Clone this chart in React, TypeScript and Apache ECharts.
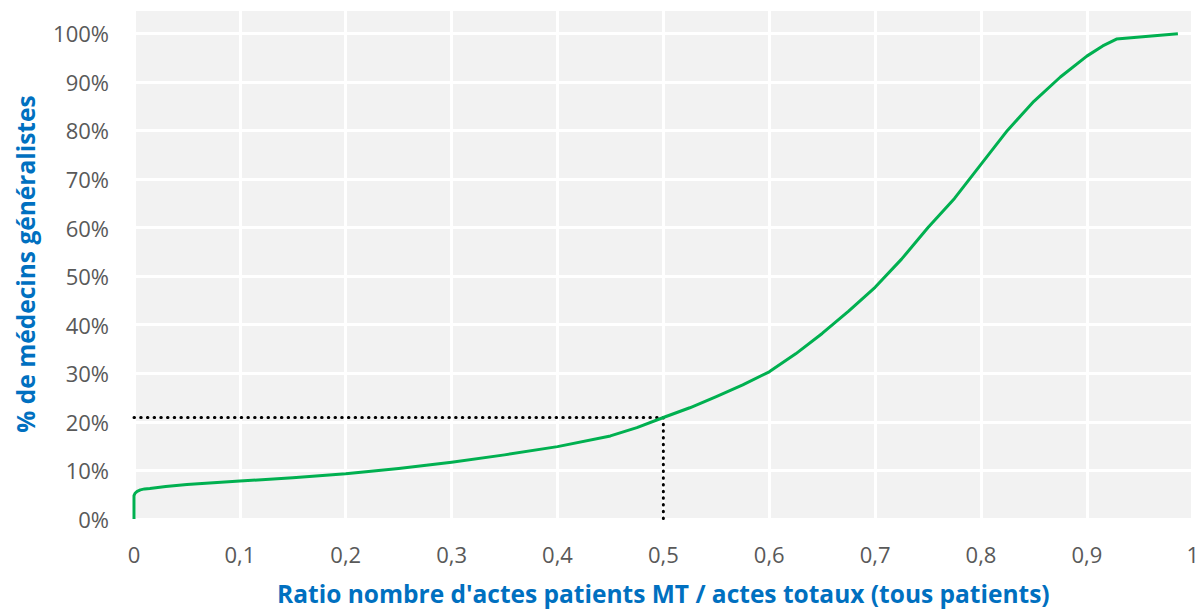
import React, { useEffect, useRef } from "react";
import * as echarts from "echarts";

const ratioX: number[] = [0, 0, 0.001, 0.003, 0.006, 0.01, 0.015, 0.03, 0.05, 0.1, 0.15, 0.2, 0.25, 0.3, 0.35, 0.4, 0.45, 0.475, 0.5, 0.525, 0.55, 0.575, 0.6, 0.625, 0.65, 0.675, 0.7, 0.725, 0.75, 0.775, 0.8, 0.825, 0.85, 0.875, 0.9, 0.915, 0.928, 0.986];
const pctMedecins: number[] = [0, 0.048, 0.053, 0.057, 0.06, 0.062, 0.063, 0.067, 0.071, 0.078, 0.085, 0.093, 0.104, 0.117, 0.132, 0.149, 0.171, 0.188, 0.209, 0.229, 0.252, 0.276, 0.303, 0.34, 0.382, 0.428, 0.477, 0.535, 0.6, 0.66, 0.73, 0.8, 0.86, 0.91, 0.953, 0.974, 0.988, 0.999];
const refX: number[] = [0, 0.5, 0.5];
const refY: number[] = [0.209, 0.209, 0];

const xTitle = "Ratio nombre d'actes patients MT / actes totaux (tous patients)";
const yTitle = "% de médecins généralistes";

export default function App() {
  const ref = useRef<HTMLDivElement>(null);
  useEffect(() => {
    document.body.style.margin = "0";
    if (!ref.current) return;
    const chart = echarts.init(ref.current, null, { renderer: "svg" });
    const labelStyle = { color: "#595959", fontSize: 22, fontFamily: "Open Sans" };
    const titleStyle = { color: "#0070C0", fontSize: 24.5, fontWeight: "bold" as const, fontFamily: "Open Sans" };
    chart.setOption({
      animation: false,
      backgroundColor: "#ffffff",
      grid: { left: 134, right: 4, top: 9, bottom: 92, show: true, backgroundColor: "#f2f2f2", borderWidth: 0 },
      xAxis: {
        type: "value",
        min: 0,
        max: 1,
        interval: 0.1,
        name: xTitle,
        nameLocation: "middle",
        nameGap: 62,
        nameTextStyle: titleStyle,
        axisLine: { show: false },
        axisTick: { show: false },
        axisLabel: {
          ...labelStyle,
          margin: 24,
          formatter: (v: number) => String(Math.round(v * 10) / 10).replace(".", ","),
        },
        splitLine: { show: true, lineStyle: { color: "#ffffff", width: 3 } },
      },
      yAxis: {
        type: "value",
        min: 0,
        max: 1.05,
        interval: 0.1,
        name: yTitle,
        nameLocation: "middle",
        nameGap: 96,
        nameTextStyle: titleStyle,
        axisLine: { show: false },
        axisTick: { show: false },
        axisLabel: {
          ...labelStyle,
          margin: 25,
          formatter: (v: number) => (v > 1.001 ? "" : Math.round(v * 100) + "%"),
        },
        splitLine: { show: true, lineStyle: { color: "#ffffff", width: 3 } },
      },
      series: [
        {
          type: "line",
          data: refX.map((x, i) => [x, refY[i]]),
          showSymbol: false,
          symbol: "none",
          lineStyle: { color: "#000000", width: 3, type: [0.5, 6.2], cap: "round" },
          z: 2,
        },
        {
          type: "line",
          data: ratioX.map((x, i) => [x, pctMedecins[i]]),
          showSymbol: false,
          symbol: "none",
          smooth: false,
          lineStyle: { color: "#00B050", width: 3, join: "round" },
          z: 3,
        },
      ],
    });
    return () => chart.dispose();
  }, []);
  return <div ref={ref} style={{ width: 1202, height: 611 }} />;
}
